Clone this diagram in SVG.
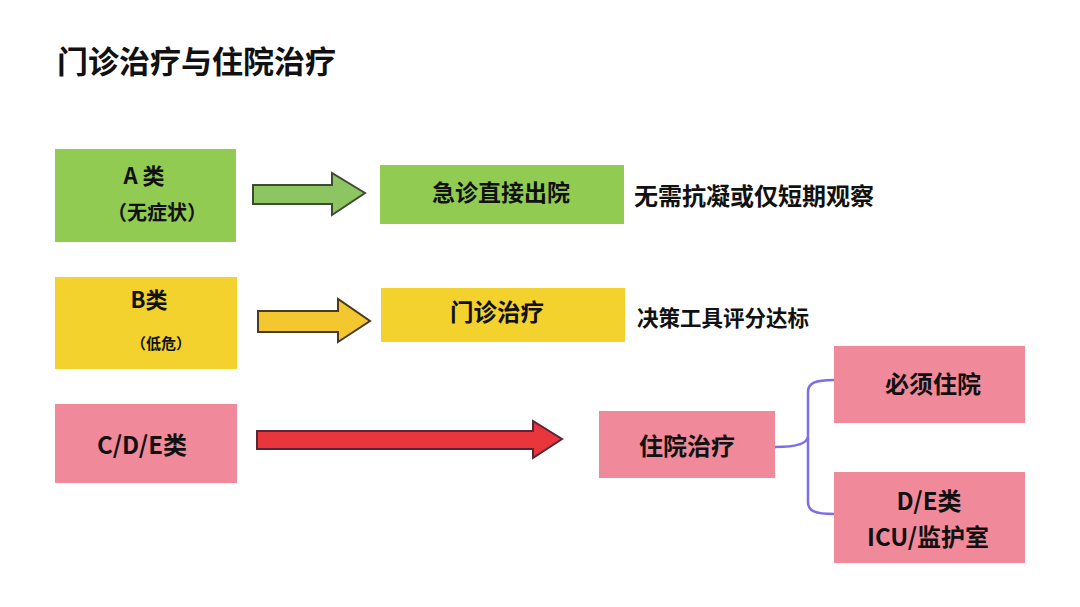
<svg xmlns="http://www.w3.org/2000/svg" width="1080" height="607" viewBox="0 0 1080 607">
<style>
text{font-family:"Noto Sans CJK SC","Noto Sans",sans-serif;font-weight:bold;fill:#111;text-anchor:middle;dominant-baseline:central}
.g{fill:#92cb52}
.y{fill:#f4d22e}
.p{fill:#f08a9a}
.arr{stroke-width:2;stroke-linejoin:miter}
</style>
<rect width="1080" height="607" fill="#ffffff"/>
<text x="57" y="59" style="text-anchor:start;font-size:31px">门诊治疗与住院治疗</text>

<g id="nodeA">
<rect class="g" x="55" y="149" width="181" height="93"/>
<text x="144" y="174" style="font-size:22px">A 类</text>
<text x="157" y="211" style="font-size:20px">（无症状）</text>
</g>
<g id="nodeB">
<rect class="y" x="55" y="277" width="182" height="92"/>
<text x="149" y="298" style="font-size:22px">B类</text>
<text x="161" y="342" style="font-size:15px">（低危）</text>
</g>
<g id="nodeCDE">
<rect class="p" x="55" y="404" width="182" height="79"/>
<text x="142" y="443" style="font-size:24px">C/D/E类</text>
</g>
<g id="nodeER">
<rect class="g" x="380" y="165" width="244" height="59"/>
<text x="501" y="191" style="font-size:23px">急诊直接出院</text>
</g>
<g id="noteA">
<text x="634" y="194" style="text-anchor:start;font-size:24px">无需抗凝或仅短期观察</text>
</g>
<g id="nodeOut">
<rect class="y" x="381" y="288" width="244" height="54"/>
<text x="497" y="311" style="font-size:23.5px">门诊治疗</text>
</g>
<g id="noteB">
<text x="637" y="316" style="text-anchor:start;font-size:21.5px">决策工具评分达标</text>
</g>
<g id="nodeIn">
<rect class="p" x="599" y="411" width="176" height="67"/>
<text x="687" y="444" style="font-size:24px">住院治疗</text>
</g>
<g id="nodeMust">
<rect class="p" x="834" y="346" width="191" height="77"/>
<text x="933" y="382" style="font-size:24px">必须住院</text>
</g>
<g id="nodeICU">
<rect class="p" x="834" y="472" width="191" height="91"/>
<text x="929" y="499" style="font-size:24px">D/E类</text>
<text x="928" y="535" style="font-size:24px">ICU/监护室</text>
</g>

<g id="connectors">
<polygon class="arr" points="253,185 332,185 332,173 365,193 332,215 332,204 253,204" fill="#8cc561" stroke="#3f4a35"/>
<polygon class="arr" points="258,311 338,311 338,299 370,321 338,342 338,332 258,332" fill="#f3c72f" stroke="#4a3a22"/>
<polygon class="arr" points="257,431 533,431 533,421 562,439 533,458 533,449 257,449" fill="#e8363c" stroke="#5a2535"/>
<path d="M775,447 C792,447 808,445 808,436 L808,392 C808,383 815,380 834,380 M808,436 L808,502 C808,511 815,514 834,514" fill="none" stroke="#7b6ee6" stroke-width="2.5"/>
</g>
</svg>
